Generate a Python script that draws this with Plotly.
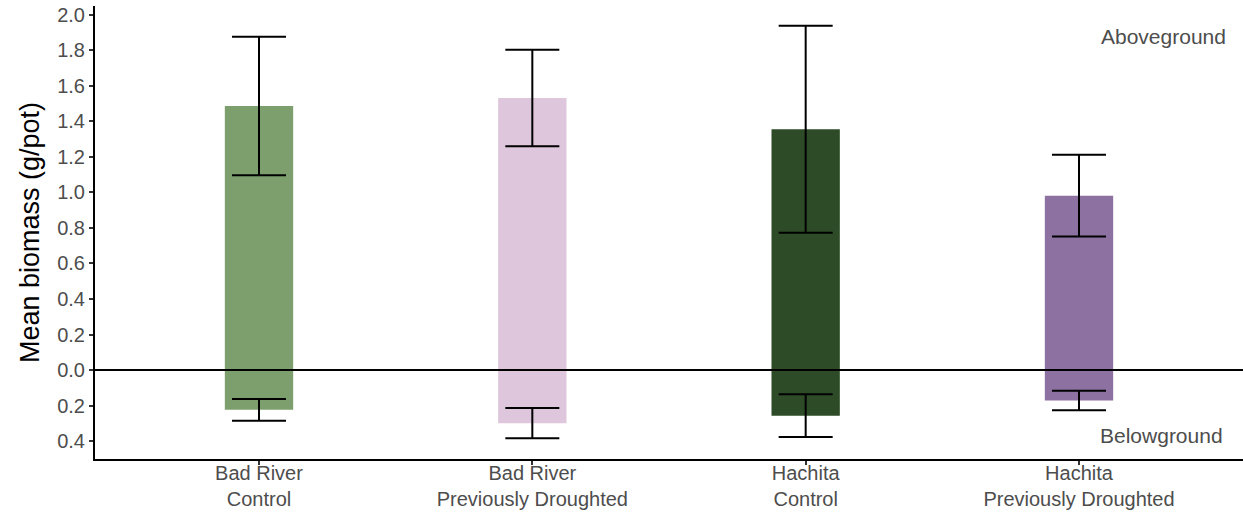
import plotly.graph_objects as go

categories = ["Bad River<br>Control", "Bad River<br>Previously Droughted",
              "Hachita<br>Control", "Hachita<br>Previously Droughted"]
above_mean = [1.487, 1.532, 1.356, 0.982]
above_err = [0.39, 0.272, 0.583, 0.23]
below_mean = [-0.224, -0.299, -0.257, -0.171]
below_err = [0.061, 0.085, 0.12, 0.055]
bar_colors = ["#7D9F6E", "#DEC6DC", "#2C4B26", "#8D71A0"]
ytick_vals = [2.0, 1.8, 1.6, 1.4, 1.2, 1.0, 0.8, 0.6, 0.4, 0.2, 0.0, -0.2, -0.4]
ytick_text = ["2.0", "1.8", "1.6", "1.4", "1.2", "1.0", "0.8", "0.6", "0.4", "0.2", "0.0", "0.2", "0.4"]

FONT = "Liberation Sans, Arial, sans-serif"

fig = go.Figure()
err_style = dict(type="data", symmetric=True, color="black", thickness=2, width=27)
fig.add_trace(go.Bar(x=list(range(4)), y=above_mean, width=0.25,
                     marker=dict(color=bar_colors, line=dict(width=0)),
                     error_y=dict(array=above_err, **err_style), showlegend=False))
fig.add_trace(go.Bar(x=list(range(4)), y=below_mean, width=0.25,
                     marker=dict(color=bar_colors, line=dict(width=0)),
                     error_y=dict(array=below_err, **err_style), showlegend=False))

fig.add_shape(type="line", xref="paper", yref="y", x0=0, x1=1, y0=0, y1=0,
              line=dict(color="black", width=2))

fig.add_annotation(text="Aboveground", xref="paper", yref="y", x=0.987, y=1.876,
                   xanchor="right", yanchor="middle", showarrow=False,
                   font=dict(family=FONT, size=21, color="#4D4D4D"))
fig.add_annotation(text="Belowground", xref="paper", yref="y", x=0.984, y=-0.366,
                   xanchor="right", yanchor="middle", showarrow=False,
                   font=dict(family=FONT, size=21, color="#4D4D4D"))

fig.update_layout(
    width=1243, height=512, barmode="overlay",
    margin=dict(l=95, r=0, t=6, b=53),
    plot_bgcolor="white", paper_bgcolor="white",
    font=dict(family=FONT),
    xaxis=dict(range=[-0.6, 3.6], tickmode="array", tickvals=list(range(4)),
               ticktext=categories, showgrid=False, zeroline=False,
               showline=True, linecolor="black", linewidth=2, automargin=False,
               ticks="outside", ticklen=4, tickcolor="#333333", tickwidth=1.5,
               ticklabelstandoff=-9,
               tickfont=dict(family=FONT, size=20, color="#4D4D4D")),
    yaxis=dict(range=[-0.501, 2.05], tickmode="array", tickvals=ytick_vals,
               ticktext=ytick_text, showgrid=False, zeroline=False,
               showline=True, linecolor="black", linewidth=2, automargin=False,
               ticks="outside", ticklen=4, tickcolor="#333333", tickwidth=1.5,
               tickfont=dict(family=FONT, size=20, color="#4D4D4D"),
               title=dict(text="Mean biomass (g/pot)", standoff=10,
                          font=dict(family=FONT, size=27, color="black"))),
)

fig.write_html("out.html", config={"displayModeBar": False},
               post_script="document.body.style.margin='0px';")
